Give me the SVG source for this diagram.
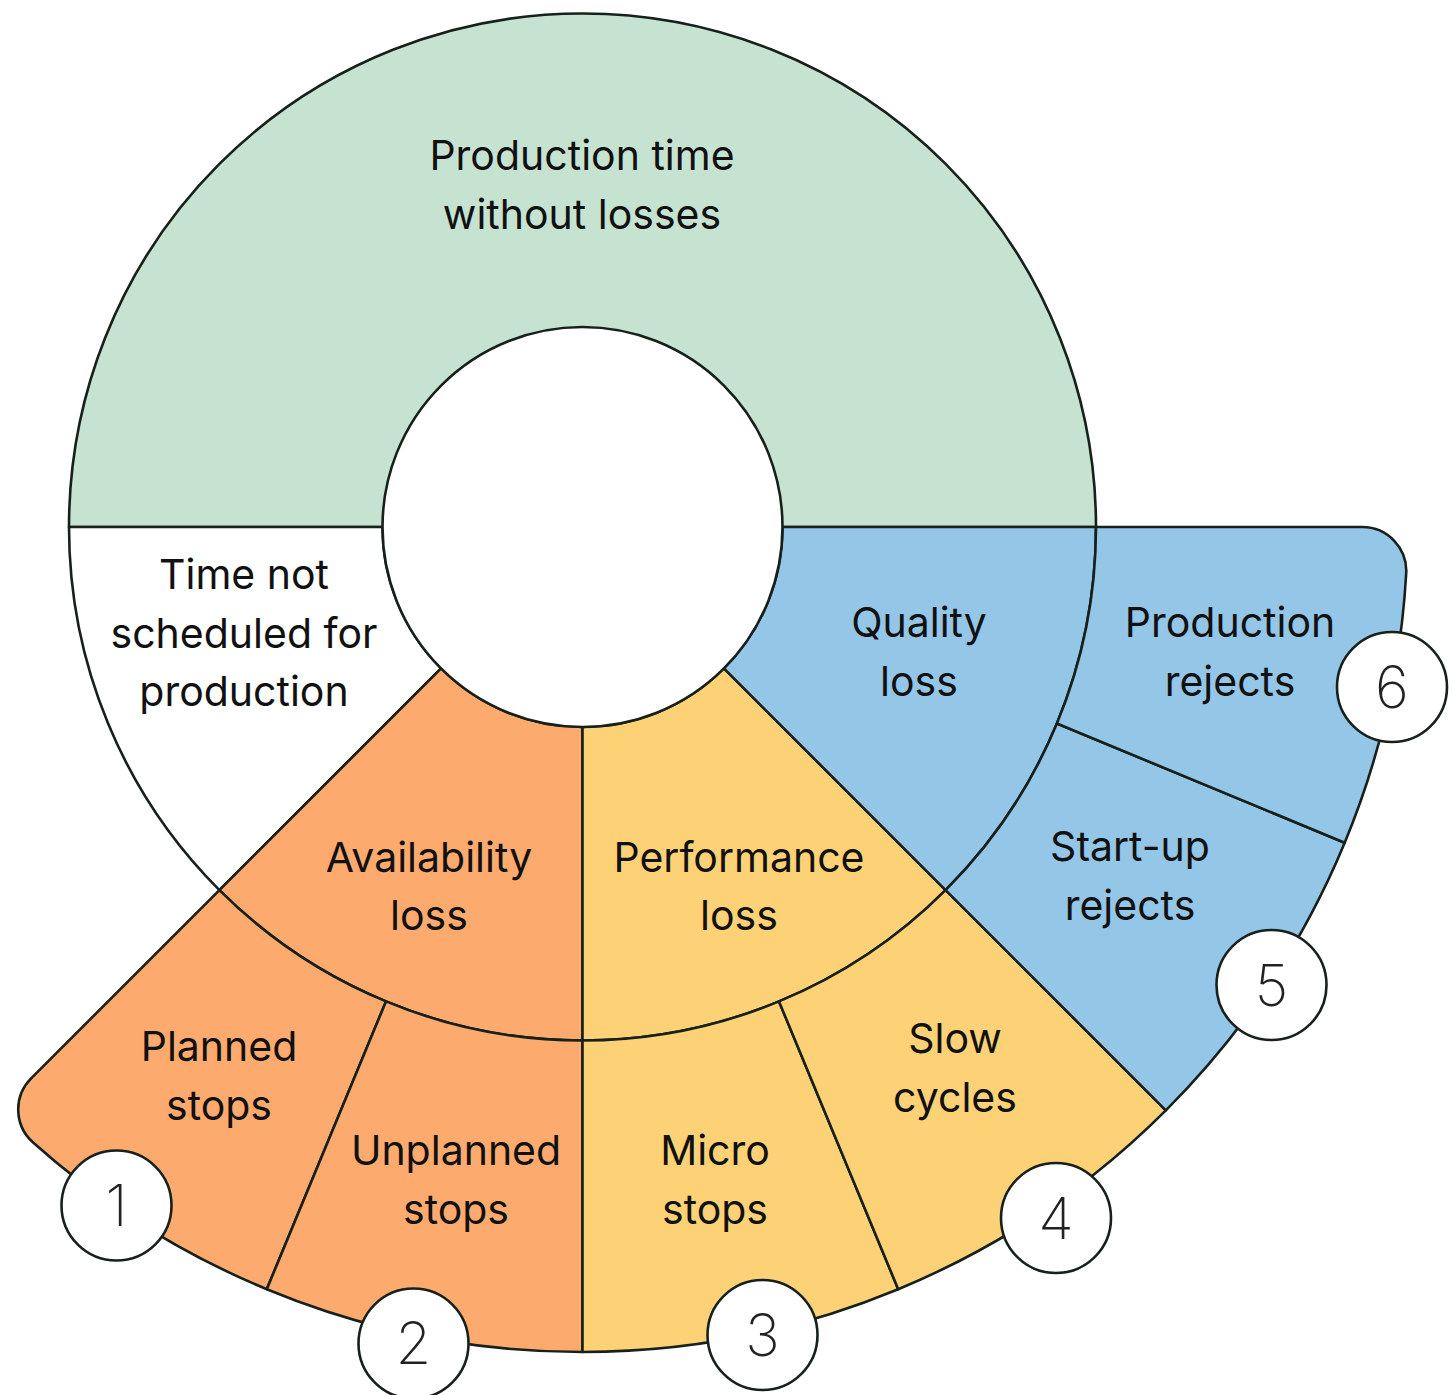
<svg xmlns="http://www.w3.org/2000/svg" width="1453" height="1395" viewBox="0 0 1453 1395">
<style>
.seg{stroke:#18201c;stroke-width:2.6;stroke-linejoin:round}
.g{fill:#c6e3d2}.w{fill:#ffffff}.o{fill:#fcaa6e}.y{fill:#fdd277}.b{fill:#94c6e7}
.lbl{font-family:Inter,"Liberation Sans",sans-serif;font-size:41px;fill:#111;text-anchor:middle}
.num{font-family:Inter,"Liberation Sans",sans-serif;font-size:58px;font-weight:200;fill:#222;text-anchor:middle}
.badge{fill:#fff;stroke:#18201c;stroke-width:2.6}
</style>
<rect width="1453" height="1395" fill="#ffffff"/>
<g id="connectors"></g>
<g id="ring-middle">
<path id="prod-time" class="seg g" d="M69,527 A513.5 513.5 0 0 1 1096,527 Z"/>
<path id="not-scheduled" class="seg w" d="M69,527 L382.5,527 A200 200 0 0 0 441.08,668.42 L219.40,890.10 A513.5 513.5 0 0 1 69,527 Z"/>
<path id="availability" class="seg o" d="M219.40,890.10 L441.08,668.42 A200 200 0 0 0 582.5,727 L582.5,1040.5 A513.5 513.5 0 0 1 219.40,890.10 Z"/>
<path id="performance" class="seg y" d="M582.5,727 A200 200 0 0 0 723.92,668.42 L945.60,890.10 A513.5 513.5 0 0 1 582.5,1040.5 Z"/>
<path id="quality" class="seg b" d="M723.92,668.42 A200 200 0 0 0 782.5,527 L1096,527 A513.5 513.5 0 0 1 945.60,890.10 Z"/>
</g>
<g id="ring-outer">
<path id="planned" class="seg o" d="M219.40,890.10 L31.13,1078.37 A44 44 0 0 0 32.8,1142.2 A825 825 0 0 0 266.79,1289.20 L385.99,1001.41 A513.5 513.5 0 0 1 219.40,890.10 Z"/>
<path id="unplanned" class="seg o" d="M385.99,1001.41 L266.79,1289.20 A825 825 0 0 0 582.5,1352 L582.5,1040.5 A513.5 513.5 0 0 1 385.99,1001.41 Z"/>
<path id="micro" class="seg y" d="M582.5,1040.5 L582.5,1352 A825 825 0 0 0 898.21,1289.20 L779.01,1001.41 A513.5 513.5 0 0 1 582.5,1040.5 Z"/>
<path id="slow" class="seg y" d="M779.01,1001.41 L898.21,1289.20 A825 825 0 0 0 1165.86,1110.36 L945.60,890.10 A513.5 513.5 0 0 1 779.01,1001.41 Z"/>
<path id="startup" class="seg b" d="M945.60,890.10 L1165.86,1110.36 A825 825 0 0 0 1344.70,842.71 L1056.91,723.51 A513.5 513.5 0 0 1 945.60,890.10 Z"/>
<path id="prodrejects" class="seg b" d="M1096,527 L1362.26,527 A44 44 0 0 1 1406.19,573.48 A825 825 0 0 1 1344.70,842.71 L1056.91,723.51 A513.5 513.5 0 0 0 1096,527 Z"/>
</g>
<g id="center"><circle class="seg w" cx="582.5" cy="527" r="200"/></g>
<g id="labels">
<text class="lbl" x="582" y="170">Production time</text>
<text class="lbl" x="582" y="229">without losses</text>
<text class="lbl" x="244" y="589">Time not</text>
<text class="lbl" x="244" y="648">scheduled for</text>
<text class="lbl" x="244" y="706">production</text>
<text class="lbl" x="429" y="872">Availability</text>
<text class="lbl" x="429" y="930">loss</text>
<text class="lbl" x="739" y="872">Performance</text>
<text class="lbl" x="739" y="930">loss</text>
<text class="lbl" x="919" y="637">Quality</text>
<text class="lbl" x="919" y="696">loss</text>
<text class="lbl" x="1230" y="637">Production</text>
<text class="lbl" x="1230" y="696">rejects</text>
<text class="lbl" x="1130" y="861">Start-up</text>
<text class="lbl" x="1130" y="920">rejects</text>
<text class="lbl" x="955" y="1053">Slow</text>
<text class="lbl" x="955" y="1112">cycles</text>
<text class="lbl" x="715" y="1165">Micro</text>
<text class="lbl" x="715" y="1224">stops</text>
<text class="lbl" x="456" y="1165">Unplanned</text>
<text class="lbl" x="456" y="1224">stops</text>
<text class="lbl" x="219" y="1061">Planned</text>
<text class="lbl" x="219" y="1120">stops</text>
</g>
<g id="badge-1"><circle class="badge" cx="116.5" cy="1205.5" r="55"/><text class="num" x="116.5" y="1226">1</text></g>
<g id="badge-2"><circle class="badge" cx="413.5" cy="1343.5" r="55"/><text class="num" x="413.5" y="1364">2</text></g>
<g id="badge-3"><circle class="badge" cx="762.5" cy="1335" r="55"/><text class="num" x="762.5" y="1356">3</text></g>
<g id="badge-4"><circle class="badge" cx="1056" cy="1218" r="55"/><text class="num" x="1056" y="1239">4</text></g>
<g id="badge-5"><circle class="badge" cx="1271.5" cy="985" r="55"/><text class="num" x="1271.5" y="1006">5</text></g>
<g id="badge-6"><circle class="badge" cx="1392" cy="687" r="55"/><text class="num" x="1392" y="708">6</text></g>
</svg>
